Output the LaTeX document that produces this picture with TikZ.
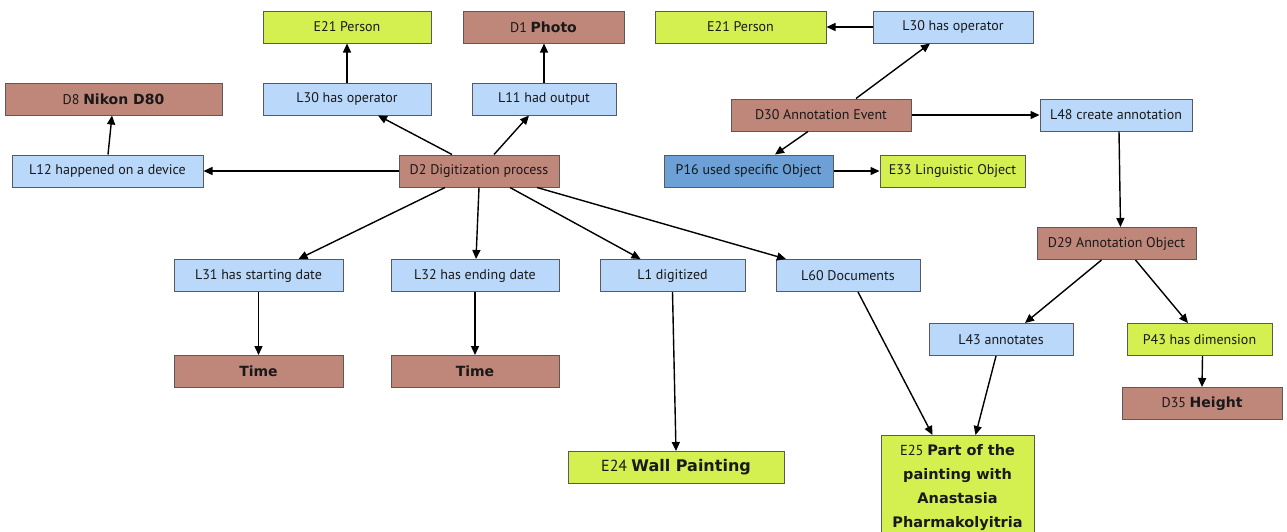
\documentclass[tikz,border=0pt]{standalone}
\usepackage{fontspec}
\setmainfont{PT Sans}[BoldFont={DejaVu Sans Bold}]
\usetikzlibrary{arrows.meta}
\definecolor{lblue}{RGB}{186,216,250}
\definecolor{cbrown}{RGB}{191,134,122}
\definecolor{cgreen}{RGB}{212,239,80}
\definecolor{dblue}{RGB}{108,160,214}
\definecolor{cborder}{RGB}{90,90,90}
\definecolor{ctext}{RGB}{25,25,25}
\tikzset{
 box/.style={draw=cborder, line width=1pt, minimum height=32pt, inner sep=2pt, text=ctext, font=\fontsize{14}{16}\selectfont},
 lbox/.style={box, fill=lblue},
 bbox/.style={box, fill=cbrown},
 gbox/.style={box, fill=cgreen},
 pbox/.style={box, fill=dblue},
 arr/.style={-{Triangle[length=9pt,width=8pt]}, line width=1.4pt, black},
}
\begin{document}
\begin{tikzpicture}[x=1pt,y=-1pt]
\useasboundingbox[fill=white] (0,0) rectangle (1287,531);
\node[gbox, minimum width=168pt] (e21a) at (347,27) {E21 Person};
\node[bbox, minimum width=161pt] (d1) at (543.5,27) {D1 \textbf{Photo}};
\node[bbox, minimum width=217pt] (d8) at (113.5,99) {D8 \textbf{Nikon D80}};
\node[lbox, minimum width=168pt] (l30a) at (347,99) {L30 has operator};
\node[lbox, minimum width=144pt] (l11) at (544,99) {L11 had output};
\node[lbox, minimum width=191pt] (l12) at (107.5,171) {L12 happened on a device};
\node[bbox, minimum width=160pt] (d2) at (479,171) {D2 Digitization process};
\node[gbox, minimum width=171pt] (e21b) at (740.5,27) {E21 Person};
\node[lbox, minimum width=160pt] (l30b) at (953,27) {L30 has operator};
\node[bbox, minimum width=180pt] (d30) at (821,115) {D30 Annotation Event};
\node[lbox, minimum width=152pt] (l48) at (1116,115) {L48 create annotation};
\node[pbox, minimum width=169pt] (p16) at (748.5,171) {P16 used specific Object};
\node[gbox, minimum width=145pt] (e33) at (952.5,171) {E33 Linguistic Object};
\node[lbox, minimum width=169pt] (l31) at (258.5,275.5) {L31 has starting date};
\node[lbox, minimum width=168pt] (l32) at (475,275.5) {L32 has ending date};
\node[bbox, minimum width=169pt] (t1) at (258.5,371.5) {\textbf{Time}};
\node[bbox, minimum width=168pt] (t2) at (475,371.5) {\textbf{Time}};
\node[lbox, minimum width=145pt] (l1) at (672.5,275.5) {L1 digitized};
\node[lbox, minimum width=144pt] (l60) at (848,275.5) {L60 Documents};
\node[bbox, minimum width=159pt] (d29) at (1116.5,243.5) {D29 Annotation Object};
\node[lbox, minimum width=144pt] (l43) at (1001,339.5) {L43 annotates};
\node[gbox, minimum width=145pt] (p43) at (1199.5,339.5) {P43 has dimension};
\node[bbox, minimum width=160pt] (d35) at (1202,403.5) {D35 \textbf{Height}};
\node[gbox, minimum width=216pt, font=\fontsize{16}{18}\selectfont] (e24) at (676,467.5) {E24 \textbf{Wall Painting}};
\node[gbox, anchor=north, minimum width=153pt, minimum height=110pt, align=center, inner ysep=9pt, font=\fontsize{14.5}{24}\selectfont] (e25) at (957.5,435) {E25 \textbf{Part of the}\\ \textbf{painting with}\\ \textbf{Anastasia}\\ \textbf{Pharmakolyitria}\\[4pt]};
\draw[arr] (d2.west) -- (l12.east);
\draw[arr] ([xshift=0.5pt]l12.north) -- ([xshift=-1.5pt]d8.south);
\draw[arr] ([xshift=-27pt]d2.north) -- ([xshift=31pt]l30a.south);
\draw[arr] (l30a.north) -- (e21a.south);
\draw[arr] ([xshift=15pt]d2.north) -- ([xshift=-15pt]l11.south);
\draw[arr] (l11.north) -- ([xshift=0.5pt]d1.south);
\draw[arr] ([xshift=-34pt]d2.south) -- ([xshift=40pt]l31.north);
\draw[arr] (d2.south) -- ([xshift=1pt]l32.north);
\draw[arr] ([xshift=31pt]d2.south) -- ([xshift=-32pt]l1.north);
\draw[arr] ([xshift=58pt]d2.south) -- ([xshift=-62pt]l60.north);
\draw[arr] (l31.south) -- (t1.north);
\draw[arr] (l32.south) -- (t2.north);
\draw[arr] (l1.south) -- (e24.north);
\draw[arr] ([xshift=10pt]l60.south) -- ([xshift=-25pt]e25.north);
\draw[arr] ([xshift=-5pt]l43.south) -- ([xshift=18pt]e25.north);
\draw[arr] ([xshift=35pt]d30.north) -- ([xshift=-23pt]l30b.south);
\draw[arr] (l30b.west) -- (e21b.east);
\draw[arr] ([xshift=-13pt]d30.south) -- ([xshift=26.5pt]p16.north);
\draw[arr] (p16.east) -- (e33.west);
\draw[arr] (d30.east) -- (l48.west);
\draw[arr] ([xshift=3pt]l48.south) -- ([xshift=4pt]d29.north);
\draw[arr] ([xshift=-15pt]d29.south) -- ([xshift=24pt]l43.north);
\draw[arr] ([xshift=19pt]d29.south) -- ([xshift=-11.5pt]p43.north);
\draw[arr] ([xshift=3pt]p43.south) -- (d35.north);
\end{tikzpicture}
\end{document}
